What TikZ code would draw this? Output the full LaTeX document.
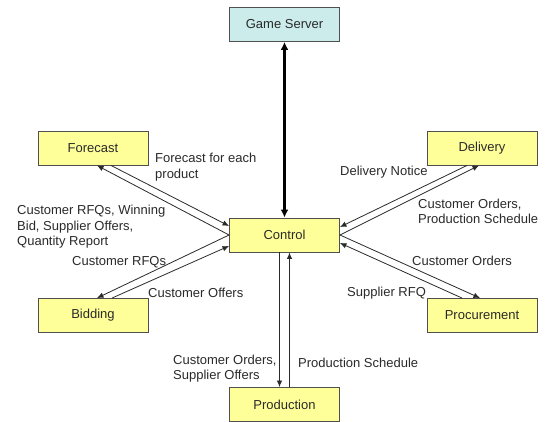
\documentclass[tikz,border=0pt]{standalone}
\usepackage{fontspec}
\setmainfont{Liberation Sans}
\usetikzlibrary{arrows.meta,calc}
\definecolor{boxyellow}{HTML}{FFFF99}
\definecolor{boxcyan}{HTML}{CCEBEB}
\definecolor{edge}{HTML}{505050}
\definecolor{ink}{HTML}{2A2A2A}
\begin{document}
\begin{tikzpicture}[x=1pt,y=-1pt,
  font=\fontsize{13}{15.5}\selectfont,
  box/.style={draw=edge,line width=0.9pt,fill=boxyellow,minimum width=110pt,minimum height=34pt,inner sep=0pt,text=ink},
  serverbox/.style={box,fill=boxcyan},
  flow/.style={draw=ink,line width=0.8pt,-{Latex[length=6.5pt,width=5.5pt]}},
  bigflow/.style={draw=black,line width=2.6pt,{Latex[length=8pt,width=8pt]}-{Latex[length=8pt,width=8pt]}},
  lbl/.style={anchor=west,inner sep=0pt,align=left,text=ink}]
\useasboundingbox (0,0) rectangle (546,422);
\fill[white] (0,0) rectangle (546,422);

% boxes
\node[serverbox] (gs) at (284.5,24.5) {Game Server};
\node[box] (control) at (284.5,235) {Control};
\node[box] (forecast) at (93,148) {Forecast};
\node[box] (bidding) at (93,315.5) {Bidding};
\node[box] (delivery) at (482,148) {Delivery};
\node[box] (procurement) at (482,315.5) {Procurement};
\node[box] (production) at (284.5,404.5) {Production};

% server link
\draw[bigflow] (gs.south) -- (control.north);

% forecast
\draw[flow] ($(forecast.south)+(18,0)$) -- ($(control.west)+(0,-9)$);
\draw[flow] (control.west) -- ($(forecast.south)+(4,0)$);
% bidding
\draw[flow] (control.west) -- ($(bidding.north)+(4,0)$);
\draw[flow] ($(bidding.north)+(19,0)$) -- ($(control.west)+(0,11)$);
% delivery
\draw[flow] ($(delivery.south)+(-15,0)$) -- ($(control.east)+(0,-8)$);
\draw[flow] (control.east) -- ($(delivery.south)+(-3,0)$);
% procurement
\draw[flow] ($(procurement.north)+(-20,0)$) -- ($(control.east)+(0,8)$);
\draw[flow] (control.east) -- ($(procurement.north)+(-2,0)$);
% production
\draw[flow] ($(control.south)+(-5,0)$) -- ($(production.north)+(-5,0)$);
\draw[flow] ($(production.north)+(5,0)$) -- ($(control.south)+(5,0)$);

% labels
\node[lbl] (l1) at (155,167) {Forecast for each\\product};
\node[lbl] (l2) at (17,227) {Customer RFQs, Winning\\Bid, Supplier Offers,\\Quantity Report};
\node[lbl] (l3) at (72,262) {Customer RFQs};
\node[lbl] (l4) at (148,293) {Customer Offers};
\node[lbl] (l5) at (340,172) {Delivery Notice};
\node[lbl] (l6) at (418,211.5) {Customer Orders,\\Production Schedule};
\node[lbl] (l7) at (412,261) {Customer Orders};
\node[lbl] (l8) at (347,293) {Supplier RFQ};
\node[lbl] (l9) at (173,368.5) {Customer Orders,\\Supplier Offers};
\node[lbl] (l10) at (298,363) {Production Schedule};
\end{tikzpicture}
\end{document}
